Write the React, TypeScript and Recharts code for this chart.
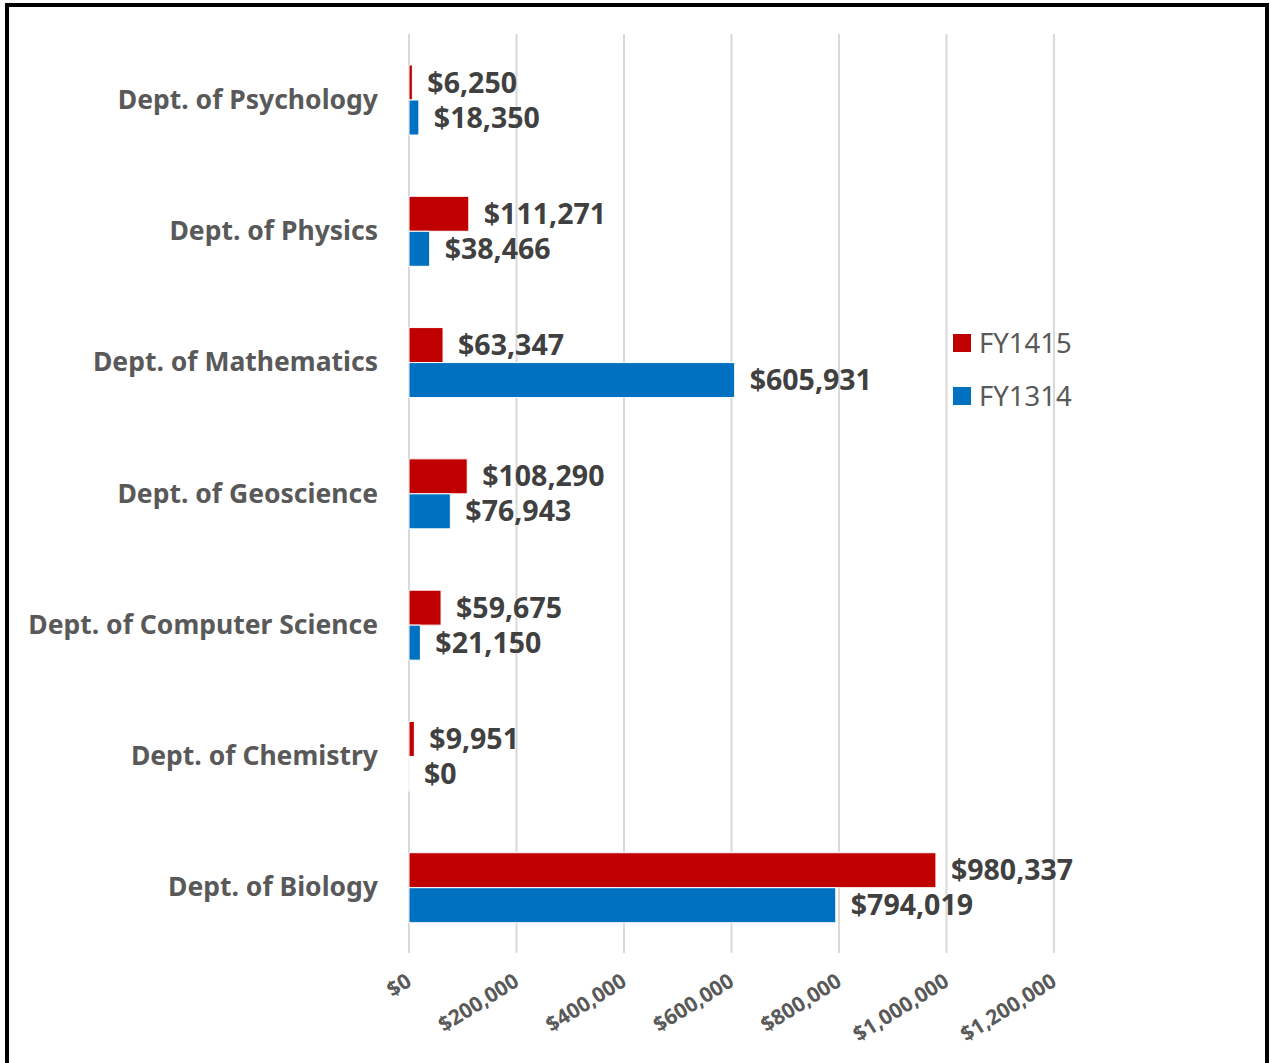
import React from 'react';
import { BarChart, Bar, XAxis, YAxis, CartesianGrid, LabelList, Legend } from 'recharts';

const departments = [
  'Dept. of Psychology',
  'Dept. of Physics',
  'Dept. of Mathematics',
  'Dept. of Geoscience',
  'Dept. of Computer Science',
  'Dept. of Chemistry',
  'Dept. of Biology',
];
const fy1415 = [6250, 111271, 63347, 108290, 59675, 9951, 980337];
const fy1314 = [18350, 38466, 605931, 76943, 21150, 0, 794019];
const xTicks = [0, 200000, 400000, 600000, 800000, 1000000, 1200000];

const seriesNames = ['FY1415', 'FY1314'];
const seriesColors = ['#C00000', '#0070C0'];

const data = departments.map((d, i) => ({ name: d, FY1415: fy1415[i], FY1314: fy1314[i] }));

const FONT = '"Noto Sans", sans-serif';

const money = (v: any) => '$' + Number(v).toLocaleString('en-US');

const XTick = (props: any) => {
  const { x, y, payload } = props;
  return (
    <g transform={`translate(${x + 4},${y + 24})`}>
      <text
        x={0}
        y={0}
        textAnchor="end"
        transform="rotate(-32)"
        fill="#595959"
        fontFamily={FONT}
        fontWeight="bold"
        fontSize={21}
      >
        {money(payload.value)}
      </text>
    </g>
  );
};

const YTick = (props: any) => {
  const { x, y, payload } = props;
  return (
    <text
      x={x}
      y={y}
      dy={9}
      textAnchor="end"
      fill="#595959"
      fontFamily={FONT}
      fontWeight="bold"
      fontSize={26.5}
    >
      {payload.value}
    </text>
  );
};

const ValueLabel = (props: any) => {
  const { x, y, width, height, value } = props;
  return (
    <text
      x={Number(x) + Number(width || 0) + 15}
      y={Number(y) + Number(height) / 2}
      dy={10}
      textAnchor="start"
      fill="#404040"
      fontFamily={FONT}
      fontWeight="bold"
      fontSize={28.5}
    >
      {money(value)}
    </text>
  );
};

const LegendContent = () => (
  <div style={{ fontFamily: FONT }}>
    {seriesNames.map((n, i) => (
      <div key={n} style={{ display: 'flex', alignItems: 'center', height: 53 }}>
        <div style={{ width: 18, height: 18, background: seriesColors[i], marginRight: 8 }} />
        <span style={{ fontSize: 27.5, color: '#595959' }}>{n}</span>
      </div>
    ))}
  </div>
);

export default function App() {
  return (
    <div style={{ position: 'fixed', left: 0, top: 0, width: 1271, height: 1063, background: '#fff', overflow: 'hidden' }}>
      <div
        style={{
          position: 'absolute',
          left: 5,
          top: 3,
          width: 1256,
          height: 1100,
          border: '4px solid #000',
        }}
      />
      <div style={{ position: 'absolute', left: 0, top: 0 }}>
        <BarChart
          width={1271}
          height={1063}
          data={data}
          layout="vertical"
          margin={{ top: 34, right: 217, bottom: 0, left: 0 }}
          barCategoryGap={31}
          barGap={0}
        >
          <CartesianGrid horizontal={false} stroke="#D9D9D9" strokeWidth={2} />
          <XAxis
            type="number"
            domain={[0, 1200000]}
            ticks={xTicks}
            axisLine={false}
            tickLine={false}
            height={110}
            tick={<XTick />}
            interval={0}
          />
          <YAxis
            type="category"
            dataKey="name"
            width={409}
            axisLine={false}
            tickLine={false}
            tickSize={0}
            tickMargin={31}
            tick={<YTick />}
            interval={0}
          />
          <Legend
            layout="horizontal"
            verticalAlign="middle"
            align="center"
            wrapperStyle={{ left: 953, top: 316, width: 200 }}
            content={<LegendContent />}
          />
          <Bar dataKey="FY1415" fill={seriesColors[0]} stroke="#ffffff" strokeWidth={1} minPointSize={0.01} isAnimationActive={false}>
            <LabelList dataKey="FY1415" content={<ValueLabel />} />
          </Bar>
          <Bar dataKey="FY1314" fill={seriesColors[1]} stroke="#ffffff" strokeWidth={1} minPointSize={0.01} isAnimationActive={false}>
            <LabelList dataKey="FY1314" content={<ValueLabel />} />
          </Bar>
        </BarChart>
      </div>
    </div>
  );
}
